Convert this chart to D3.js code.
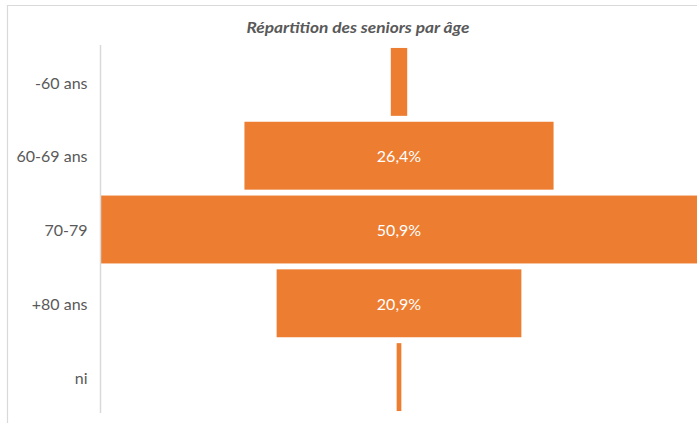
<!DOCTYPE html>
<html><head><meta charset="utf-8">
<script src="https://cdn.jsdelivr.net/npm/d3@7"></script>
<style>html,body{margin:0;padding:0;background:#fff;}svg{display:block;}</style>
</head><body>
<svg id="chart" width="698" height="423"></svg>
<script>
const categories = ["-60 ans", "60-69 ans", "70-79", "+80 ans", "ni"];
const values = [1.4, 26.4, 50.9, 20.9, 0.4];
const valueLabels = ["", "26,4%", "50,9%", "20,9%", ""];
const title = "Répartition des seniors par âge";

const svg = d3.select("#chart");
const W = 698, H = 423;
const font = "Lato, 'Open Sans', sans-serif";

// frame
svg.append("line").attr("x1", 7).attr("x2", 697).attr("y1", 5.5).attr("y2", 5.5).attr("stroke", "#d9d9d9").attr("stroke-width", 1.2);
svg.append("line").attr("x1", 7.5).attr("x2", 7.5).attr("y1", 5).attr("y2", H).attr("stroke", "#d9d9d9").attr("stroke-width", 1.2);

const maxV = d3.max(values);
const x = d3.scaleLinear().domain([-maxV / 2, maxV / 2]).range([101, 697]);
const y = d3.scaleBand().domain(categories).range([45, 414]).paddingInner(0.08).paddingOuter(0.04);

svg.append("text").attr("x", 358).attr("y", 33).attr("text-anchor", "middle")
  .attr("font-family", font).attr("font-size", 15.5).attr("font-weight", "bold").attr("font-style", "italic")
  .attr("fill", "#595959").attr("textLength", 223).attr("lengthAdjust", "spacingAndGlyphs").text(title);

svg.selectAll("rect.bar").data(categories).join("rect").attr("class", "bar")
  .attr("x", (d, i) => x(-values[i] / 2))
  .attr("width", (d, i) => x(values[i] / 2) - x(-values[i] / 2))
  .attr("y", d => y(d)).attr("height", y.bandwidth())
  .attr("fill", "#ED7D31");

svg.selectAll("text.val").data(categories).join("text").attr("class", "val")
  .attr("x", x(0)).attr("y", d => y(d) + y.bandwidth() / 2 + 1).attr("dy", "0.35em")
  .attr("text-anchor", "middle").attr("font-family", font).attr("font-size", 16).attr("fill", "#fff")
  .text((d, i) => valueLabels[i]);

const axis = d3.axisLeft(y).tickSize(0).tickPadding(13);
const g = svg.append("g").attr("transform", "translate(100.5,0)").call(axis);
g.select(".domain").attr("stroke", "#d9d9d9").attr("stroke-width", 1.5).attr("d", "M0,45V413");
g.selectAll("text").attr("font-family", font).attr("font-size", 16).attr("fill", "#595959").attr("dy", "0.42em");
</script>
</body></html>
